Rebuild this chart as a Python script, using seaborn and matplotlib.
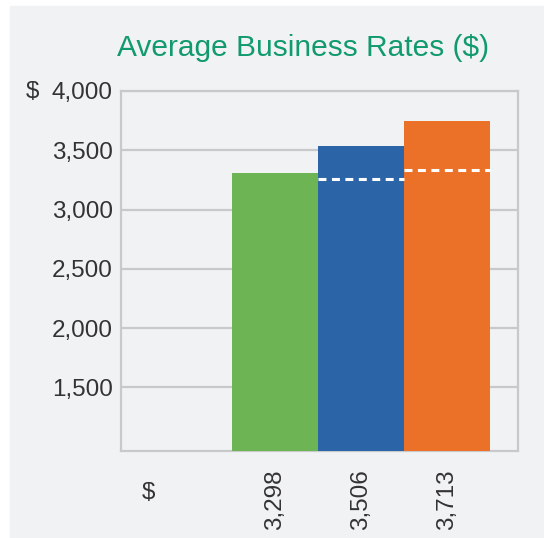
import matplotlib
matplotlib.use("Agg")
import matplotlib.pyplot as plt
import matplotlib.patches as mpatches
import matplotlib.transforms as mtransforms
import seaborn as sns
import pandas as pd
import numpy as np

# ---- data ----
labels = ["3,298", "3,506", "3,713"]
bar_values = [3305, 3534, 3746]
dash_values = [np.nan, 3255, 3335]
bar_colors = ["#6db554", "#2b64a7", "#ec7128"]
y_ticks = [1500, 2000, 2500, 3000, 3500, 4000]

PANEL = "#f1f2f4"
GRID = "#c9c9cb"
TEXT = "#333333"
TITLE = "#119a6c"

sns.set_theme(style="white")
plt.rcParams["font.family"] = ["Liberation Sans", "DejaVu Sans"]

df = pd.DataFrame({"label": labels, "value": bar_values})

fig = plt.figure(figsize=(5.44, 5.38), dpi=100, facecolor="white")
fig.patches.append(mpatches.Rectangle((10 / 544, 0), 1, (538 - 6) / 538,
                                      transform=fig.transFigure, color=PANEL, zorder=-10))

ax = fig.add_axes([121 / 544, 1 - 450.7 / 538, 397 / 544, 359.7 / 538])
ax.set_facecolor(PANEL)

sns.barplot(data=df, x="label", y="value", hue="label", palette=bar_colors,
            order=labels, width=1.0, saturation=1, legend=False, ax=ax, zorder=3,
            linewidth=0, edgecolor="none")

# dashed average markers inside bars
for i, v in enumerate(dash_values):
    if not np.isnan(v):
        ax.hlines(v, i - 0.5, i + 0.5, colors="white", linestyles=(0, (2.6, 1.8)),
                  linewidth=2.2, zorder=4)

ax.set_xlim(-1.79, 2.83)
ax.set_ylim(965, 4000)
ax.set_yticks(y_ticks)
ax.set_yticklabels([f"{t:,}" for t in y_ticks], fontsize=17.5, color=TEXT)
ax.set_xticks(range(len(labels)))
ax.set_xticklabels(labels, rotation=90, fontsize=17.5, color=TEXT, va="top")
ax.tick_params(axis="both", length=0)
ax.tick_params(axis="x", pad=13.5)
ax.tick_params(axis="y", pad=6)
ax.set_xlabel("")
ax.set_ylabel("")

ax.yaxis.grid(True, color=GRID, linewidth=1.6, zorder=0)
ax.set_axisbelow(True)
for s in ax.spines.values():
    s.set_visible(True)
    s.set_color(GRID)
    s.set_linewidth(1.6)

# "$" marks for axes
trans = mtransforms.blended_transform_factory(ax.transData, ax.transAxes)
ax.text(-1.465, -0.118, "$", transform=trans, ha="center", va="center",
        fontsize=17.5, color=TEXT)
trans_y = mtransforms.blended_transform_factory(fig.transFigure, ax.transData)
ax.text(32 / 544, 3990, "$", transform=trans_y, ha="center", va="center",
        fontsize=17.5, color=TEXT)

fig.text(303 / 544, 1 - 48 / 538, "Average Business Rates ($)", ha="center", va="center",
         fontsize=21.5, color=TITLE)

fig.savefig("out.png", dpi=100, facecolor="white")
